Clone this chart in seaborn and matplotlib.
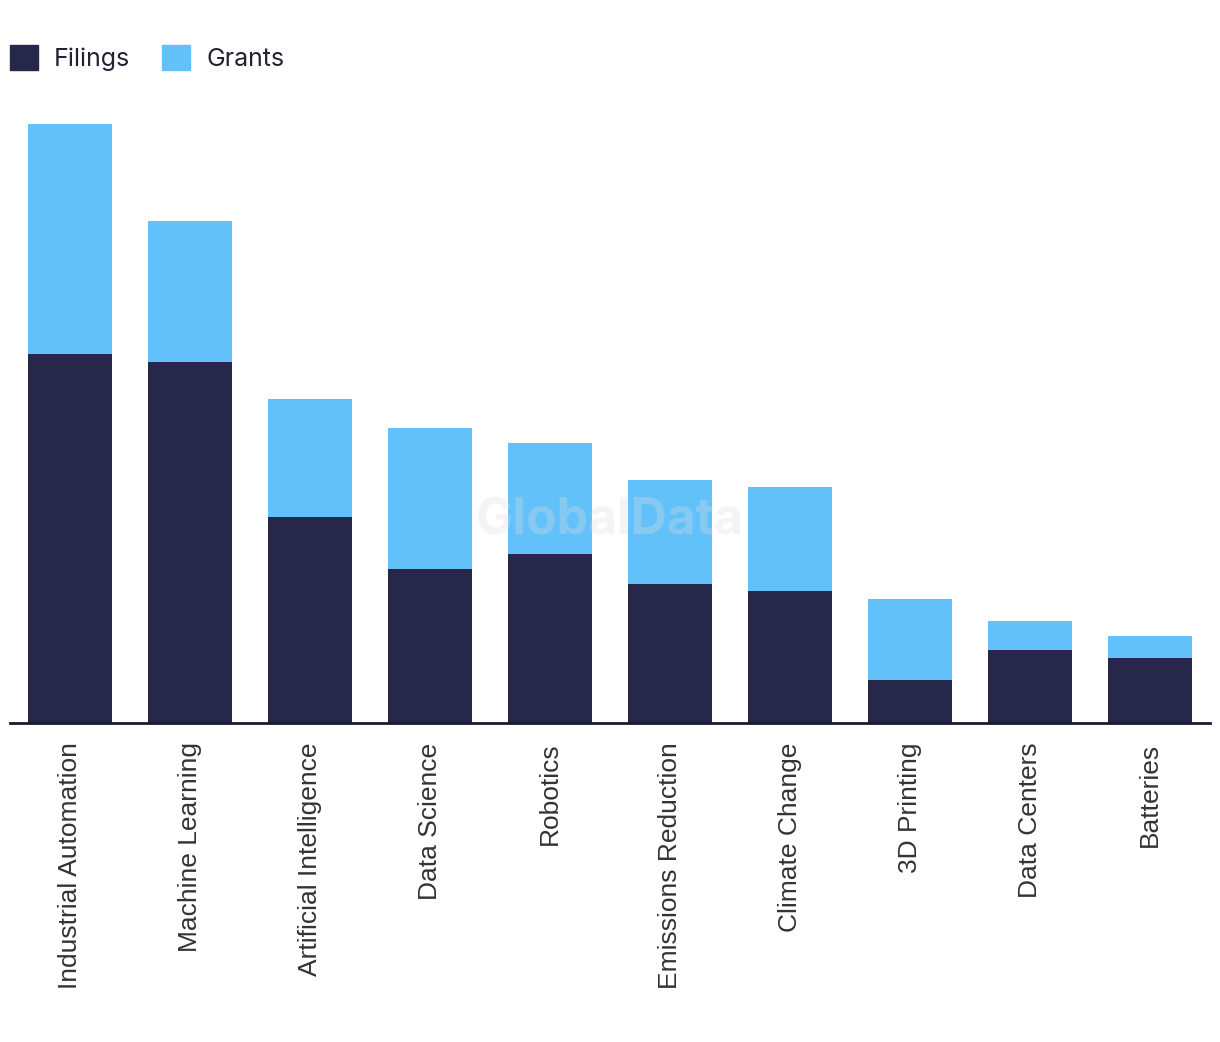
import pandas as pd
import numpy as np
import matplotlib
matplotlib.use("Agg")
import matplotlib.pyplot as plt
import matplotlib.patches as mpatches
import seaborn as sns

# data (arbitrary units)
categories = ["Industrial Automation", "Machine Learning", "Artificial Intelligence",
              "Data Science", "Robotics", "Emissions Reduction", "Climate Change",
              "3D Printing", "Data Centers", "Batteries"]
filings = [369, 361, 206, 154, 169, 139, 132, 43, 73, 65]
grants = [230, 141, 118, 141, 111, 104, 104, 81, 29, 22]

filings_color = "#27274a"
grants_color = "#62c1f9"

df = pd.DataFrame({"category": categories, "filings": filings, "grants": grants})
df["total"] = df["filings"] + df["grants"]

sns.set_style("white")
plt.rcParams["font.family"] = ["Liberation Sans", "DejaVu Sans"]

fig = plt.figure(figsize=(12.2, 10.42), dpi=100)
ax = fig.add_axes([10 / 1220, 319 / 1042, 1200 / 1220, 613 / 1042])

# stacked bars: total first (grants), then filings over it
sns.barplot(data=df, x="category", y="total", color=grants_color, width=0.7,
            saturation=1, linewidth=0, ax=ax)
sns.barplot(data=df, x="category", y="filings", color=filings_color, width=0.7,
            saturation=1, linewidth=0, ax=ax)

ax.set_xlim(-0.5, 9.5)
ax.set_ylim(0, 613)
ax.set_xlabel("")
ax.set_ylabel("")
ax.set_yticks([])
ax.tick_params(axis="x", length=0, pad=14, labelsize=19, labelcolor="#333333")
plt.setp(ax.get_xticklabels(), rotation=90, va="top", ha="center")
for s in ["top", "right", "left"]:
    ax.spines[s].set_visible(False)
ax.spines["bottom"].set_color("#1a1a2e")
ax.spines["bottom"].set_linewidth(2)

# watermark
ax.text(0.5, 0.33, "GlobalData", transform=ax.transAxes, ha="center", va="center",
        fontsize=36, fontweight="bold", color="#dddddd", alpha=0.3,
        family=["Inter", "DejaVu Sans"], zorder=5)

handles = [mpatches.Patch(color=filings_color, label="Filings"),
           mpatches.Patch(color=grants_color, label="Grants")]
fig.legend(handles=handles, loc="upper left", bbox_to_anchor=(10 / 1220, 1 - 45 / 1042),
           ncol=2, frameon=False, borderpad=0, borderaxespad=0,
           handlelength=1.12, handleheight=1.15, handletextpad=0.65,
           columnspacing=1.25, prop={"family": ["Inter", "DejaVu Sans"], "size": 18},
           labelcolor="#222233")

fig.savefig("out.png", dpi=100, facecolor="white")
